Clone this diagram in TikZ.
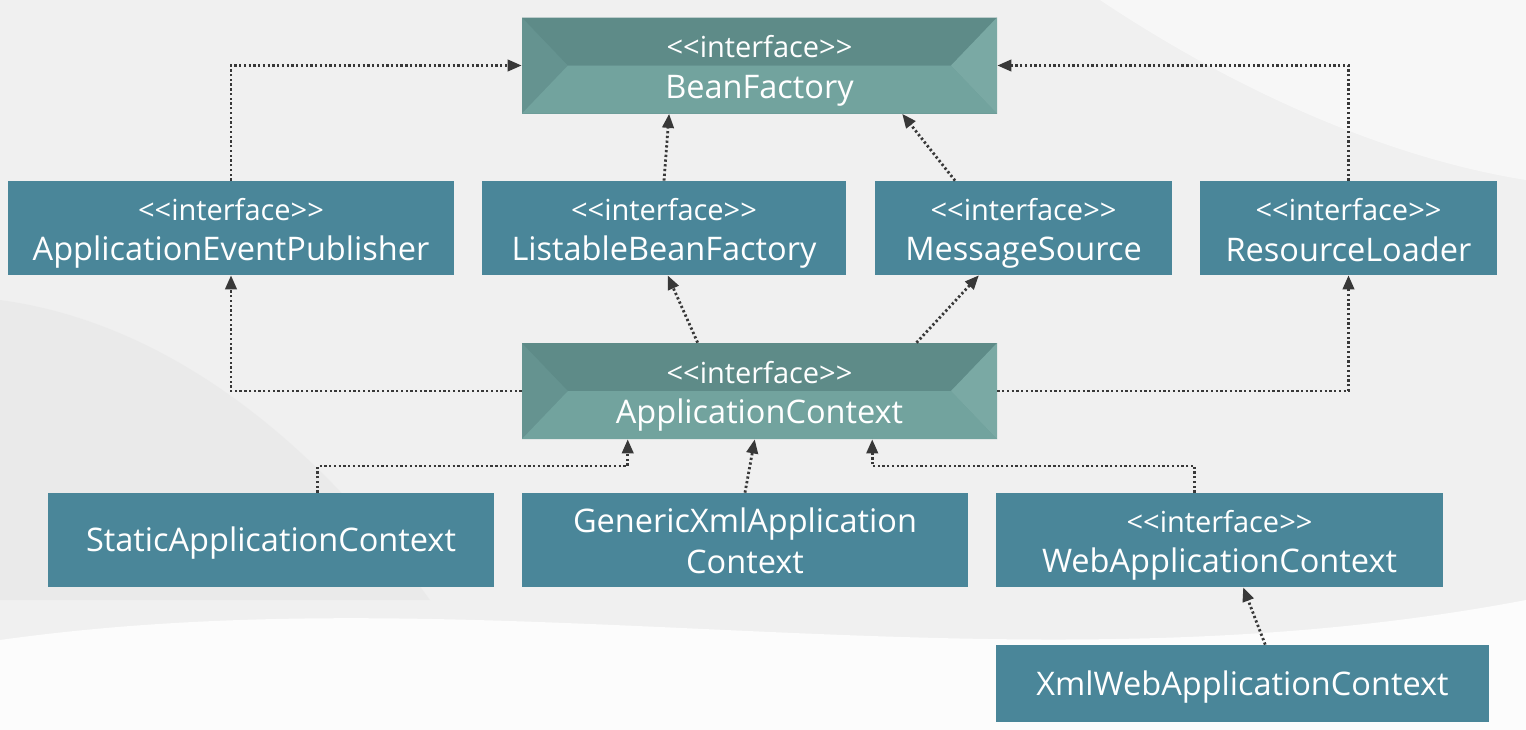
\documentclass[tikz,border=0pt]{standalone}
\usepackage{fontspec}
\setmainfont{Open Sans}
\usetikzlibrary{arrows.meta, calc}

\definecolor{boxblue}{HTML}{4A8699}
\definecolor{bevtop}{HTML}{5E8B88}
\definecolor{bevbot}{HTML}{72A39E}
\definecolor{bevleft}{HTML}{659390}
\definecolor{bevright}{HTML}{7AA9A4}
\definecolor{dotgray}{HTML}{383838}
\definecolor{bggray}{HTML}{F0F0F0}

\tikzset{
    plainbox/.style={rectangle, fill=boxblue, text=white, align=center, inner sep=0pt,
        minimum height=94*0.02cm, font=\fontsize{18.5}{23}\selectfont},
    bevelbox/.style={plainbox, fill=bevleft, minimum height=96*0.02cm,
        path picture={
            \fill[bevtop] (path picture bounding box.north west) -- (path picture bounding box.north east)
                -- ([xshift=-0.92cm]path picture bounding box.east) -- ([xshift=0.92cm]path picture bounding box.west) -- cycle;
            \fill[bevbot] (path picture bounding box.south west) -- (path picture bounding box.south east)
                -- ([xshift=-0.92cm]path picture bounding box.east) -- ([xshift=0.92cm]path picture bounding box.west) -- cycle;
            \fill[bevright] (path picture bounding box.north east) -- ([xshift=-0.92cm]path picture bounding box.east)
                -- (path picture bounding box.south east) -- cycle;
        }},
    conn/.style={dotgray, line width=1.6pt, dash pattern=on 1.3pt off 1.4pt,
        -{Triangle[length=8pt, width=6.5pt]}},
}

% fixed line heights for the box labels
\newcommand{\mstrut}{\rule[-3.5pt]{0pt}{18.5pt}}
\newcommand{\topstrut}{\rule[-4pt]{0pt}{22.5pt}}
\newcommand{\onestrut}{\rule[-2pt]{0pt}{20pt}}
\newcommand{\iface}[1]{{\fontsize{16.5}{19}\selectfont <{}<interface>{}>\topstrut}\\#1\mstrut}

\begin{document}
\begin{tikzpicture}[x=0.02cm, y=-0.02cm]
    % Background with light swooshes
    \useasboundingbox (0,0) rectangle (1526,730);
    \fill[bggray] (0,0) rectangle (1526,730);
    \fill[gray!25, opacity=0.3] (0,300) .. controls (150,320) and (300,420) .. (430,600) -- (0,600) -- cycle;
    \fill[white, opacity=0.5] (1100,0) .. controls (1250,100) and (1400,160) .. (1526,180) -- (1526,0) -- cycle;
    \fill[white, opacity=0.8] (0,640) .. controls (500,570) and (1000,700) .. (1526,600) -- (1526,730) -- (0,730) -- cycle;

    % Top: BeanFactory
    \node[bevelbox, minimum width=475*0.02cm] (bf) at (759.5,65.5) {\iface{BeanFactory}};

    % Second row of interfaces
    \node[plainbox, minimum width=446*0.02cm] (aep) at (231,228) {\iface{ApplicationEventPublisher}};
    \node[plainbox, minimum width=364*0.02cm] (lbf) at (664,228) {\iface{ListableBeanFactory}};
    \node[plainbox, minimum width=297*0.02cm] (ms) at (1023.5,228) {\iface{MessageSource}};
    \node[plainbox, minimum width=297*0.02cm] (rl) at (1348.5,228) {\iface{ResourceLoader}};

    % ApplicationContext
    \node[bevelbox, minimum width=475*0.02cm] (ac) at (759.5,391) {\iface{ApplicationContext}};

    % Implementations
    \node[plainbox, minimum width=446*0.02cm] (sac) at (271,540) {StaticApplicationContext\onestrut};
    \node[plainbox, minimum width=446*0.02cm] (gxac) at (745,540) {GenericXmlApplication\topstrut\\Context\mstrut};
    \node[plainbox, minimum width=447*0.02cm] (wac) at (1219.5,540) {\iface{WebApplicationContext}};
    \node[plainbox, minimum width=493*0.02cm, minimum height=77*0.02cm] (xwac) at (1242.5,683.5) {XmlWebApplicationContext\onestrut};

    % Connectors to BeanFactory
    \draw[conn] (aep.north) |- (bf.west);
    \draw[conn] (lbf.north) -- ($(bf.south west)!0.31!(bf.south east)$);
    \draw[conn] ($(ms.north west)!0.27!(ms.north east)$) -- ($(bf.south west)!0.80!(bf.south east)$);
    \draw[conn] (rl.north) |- (bf.east);

    % Connectors from ApplicationContext
    \draw[conn] (ac.west) -| (aep.south);
    \draw[conn] ($(ac.north west)!0.37!(ac.north east)$) -- ($(lbf.south west)!0.51!(lbf.south east)$);
    \draw[conn] ($(ac.north west)!0.83!(ac.north east)$) -- ($(ms.south west)!0.35!(ms.south east)$);
    \draw[conn] (ac.east) -| (rl.south);

    % Connectors to ApplicationContext
    \coordinate (lvl) at (0,466);
    \coordinate (sacin) at ($(ac.south west)!0.223!(ac.south east)$);
    \coordinate (wacin) at ($(ac.south west)!0.737!(ac.south east)$);
    \draw[conn] ($(sac.north west)!0.605!(sac.north east)$) |- (lvl -| sacin) -- (sacin);
    \draw[conn] (gxac.north) -- ($(ac.south west)!0.49!(ac.south east)$);
    \draw[conn] ($(wac.north west)!0.445!(wac.north east)$) |- (lvl -| wacin) -- (wacin);
    \draw[conn] ($(xwac.north west)!0.546!(xwac.north east)$) -- ($(wac.south west)!0.553!(wac.south east)$);
\end{tikzpicture}
\end{document}
